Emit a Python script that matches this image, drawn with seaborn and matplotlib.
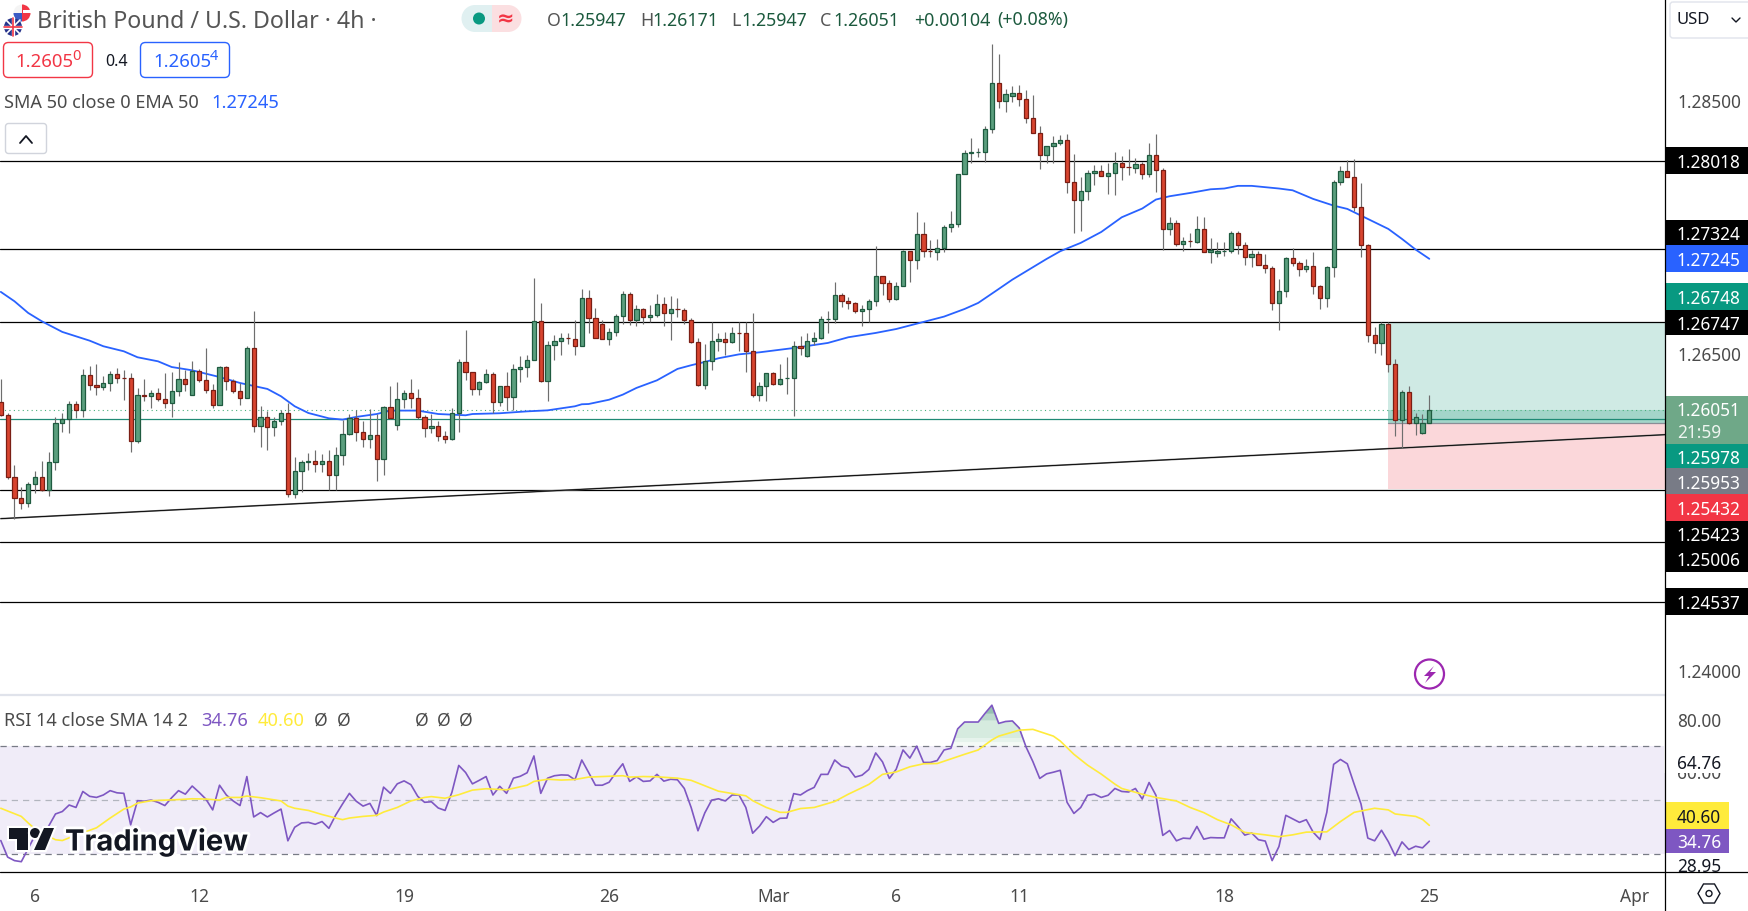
import numpy as np
import matplotlib
matplotlib.use('Agg')
import matplotlib.pyplot as plt
import matplotlib.patches as mpatches
import matplotlib.patheffects as pe
import seaborn as sns

W, H = 1748, 912

# ── Candles (4h) ─────────────────────────────────────────────────────────────
opens = [
    1.26115, 1.26012, 1.25523, 1.25357, 1.25318, 1.25468, 1.25523, 1.25418, 1.25641, 1.25949,
    1.25978, 1.26099, 1.26052, 1.26328, 1.26249, 1.26233, 1.26265, 1.26336, 1.26305, 1.26305,
    1.25807, 1.26170, 1.26162, 1.26186, 1.26139, 1.26107, 1.26202, 1.26297, 1.26170, 1.26360,
    1.26289, 1.26210, 1.26091, 1.26391, 1.26281, 1.26202, 1.26147, 1.26541, 1.25926, 1.25997,
    1.25918, 1.25965, 1.26028, 1.25389, 1.25570, 1.25641, 1.25649, 1.25623, 1.25649, 1.25539,
    1.25697, 1.25862, 1.25989, 1.25876, 1.25823, 1.25854, 1.25665, 1.26076, 1.25933, 1.26139,
    1.26186, 1.26147, 1.25997, 1.25910, 1.25926, 1.25847, 1.25823, 1.26028, 1.26431, 1.26352,
    1.26218, 1.26273, 1.26336, 1.26115, 1.26241, 1.26155, 1.26376, 1.26391, 1.26447, 1.26755,
    1.26278, 1.26565, 1.26597, 1.26620, 1.26613, 1.26555, 1.26936, 1.26778, 1.26731, 1.26613,
    1.26668, 1.26794, 1.26968, 1.26763, 1.26849, 1.26784, 1.26802, 1.26889, 1.26818, 1.26849,
    1.26841, 1.26763, 1.26589, 1.26247, 1.26439, 1.26597, 1.26613, 1.26589, 1.26660, 1.26660,
    1.26518, 1.26170, 1.26241, 1.26344, 1.26255, 1.26302, 1.26305, 1.26557, 1.26476, 1.26597,
    1.26620, 1.26770, 1.26770, 1.26960, 1.26913, 1.26897, 1.26834, 1.26849, 1.26913, 1.27110,
    1.27055, 1.26928, 1.27031, 1.27307, 1.27236, 1.27442, 1.27307, 1.27299, 1.27331, 1.27497,
    1.27521, 1.27915, 1.28081, 1.28086, 1.28089, 1.28271, 1.28634, 1.28492, 1.28531, 1.28555,
    1.28508, 1.28358, 1.28239, 1.28065, 1.28136, 1.28160, 1.28184, 1.27852, 1.27710, 1.27781,
    1.27923, 1.27939, 1.27900, 1.27923, 1.28002, 1.27971, 1.27963, 1.27994, 1.27915, 1.28065,
    1.27947, 1.27481, 1.27528, 1.27363, 1.27386, 1.27378, 1.27481, 1.27299, 1.27292, 1.27307,
    1.27307, 1.27449, 1.27355, 1.27260, 1.27284, 1.27197, 1.27173, 1.26897, 1.26992, 1.27252,
    1.27213, 1.27165, 1.27189, 1.27031, 1.26936, 1.27181, 1.27852, 1.27939, 1.27892, 1.27655,
    1.27355, 1.26644, 1.26581, 1.26731, 1.26415, 1.25973, 1.26194, 1.25949, 1.25870, 1.25947,
]
highs = [
    1.26299, 1.26028, 1.25620, 1.25444, 1.25483, 1.25573, 1.25649, 1.25723, 1.25997, 1.26028,
    1.26126, 1.26126, 1.26378, 1.26402, 1.26418, 1.26323, 1.26362, 1.26384, 1.26370, 1.26347,
    1.26228, 1.26299, 1.26212, 1.26228, 1.26347, 1.26355, 1.26431, 1.26370, 1.26441, 1.26378,
    1.26541, 1.26260, 1.26397, 1.26402, 1.26297, 1.26265, 1.26560, 1.26836, 1.26086, 1.26041,
    1.25997, 1.26054, 1.26107, 1.25683, 1.25660, 1.25712, 1.25739, 1.25707, 1.25739, 1.25760,
    1.25976, 1.26020, 1.26054, 1.25962, 1.26060, 1.26020, 1.26086, 1.26244, 1.26276, 1.26207,
    1.26299, 1.26220, 1.26015, 1.26018, 1.25962, 1.25889, 1.26068, 1.26457, 1.26686, 1.26352,
    1.26278, 1.26378, 1.26355, 1.26241, 1.26349, 1.26418, 1.26476, 1.26489, 1.27097, 1.26897,
    1.26599, 1.26647, 1.26663, 1.26663, 1.26765, 1.27010, 1.27002, 1.26857, 1.26765, 1.26702,
    1.26813, 1.26994, 1.26984, 1.26884, 1.26857, 1.26878, 1.26968, 1.26947, 1.26955, 1.26936,
    1.26857, 1.26778, 1.26620, 1.26576, 1.26744, 1.26663, 1.26668, 1.26710, 1.26749, 1.26744,
    1.26820, 1.26273, 1.26344, 1.26352, 1.26415, 1.26473, 1.26597, 1.26639, 1.26663, 1.26670,
    1.26797, 1.26836, 1.27063, 1.26976, 1.26944, 1.26905, 1.26881, 1.26928, 1.27349, 1.27110,
    1.27078, 1.27063, 1.27318, 1.27307, 1.27618, 1.27539, 1.27397, 1.27405, 1.27513, 1.27626,
    1.27915, 1.28105, 1.28202, 1.28123, 1.28294, 1.28937, 1.28865, 1.28586, 1.28613, 1.28621,
    1.28579, 1.28542, 1.28297, 1.28136, 1.28215, 1.28223, 1.28231, 1.28076, 1.27894, 1.27950,
    1.27986, 1.27986, 1.28002, 1.28092, 1.28057, 1.28115, 1.28044, 1.28010, 1.28163, 1.28234,
    1.27965, 1.27578, 1.27555, 1.27421, 1.27452, 1.27586, 1.27578, 1.27413, 1.27381, 1.27381,
    1.27465, 1.27465, 1.27378, 1.27318, 1.27307, 1.27286, 1.27192, 1.27089, 1.27260, 1.27331,
    1.27228, 1.27244, 1.27302, 1.27039, 1.27189, 1.27868, 1.27981, 1.28029, 1.28036, 1.27844,
    1.27363, 1.26707, 1.26747, 1.26747, 1.26457, 1.26212, 1.26244, 1.26028, 1.26023, 1.26171,
]
lows = [
    1.26002, 1.25507, 1.25191, 1.25270, 1.25283, 1.25397, 1.25410, 1.25370, 1.25581, 1.25876,
    1.25868, 1.25986, 1.25994, 1.26207, 1.26168, 1.26210, 1.26202, 1.26265, 1.26128, 1.25718,
    1.25791, 1.26120, 1.26065, 1.26120, 1.26065, 1.25994, 1.26160, 1.26199, 1.26170, 1.26273,
    1.26183, 1.26065, 1.26091, 1.26212, 1.26189, 1.26094, 1.26147, 1.25876, 1.25757, 1.25733,
    1.25844, 1.25931, 1.25365, 1.25354, 1.25404, 1.25575, 1.25560, 1.25560, 1.25420, 1.25420,
    1.25615, 1.25852, 1.25804, 1.25757, 1.25752, 1.25489, 1.25536, 1.25981, 1.25897, 1.26068,
    1.26068, 1.25981, 1.25836, 1.25868, 1.25810, 1.25791, 1.25815, 1.25876, 1.26291, 1.26168,
    1.26173, 1.26265, 1.26031, 1.26086, 1.26055, 1.26055, 1.26270, 1.26315, 1.26447, 1.26270,
    1.26120, 1.26444, 1.26484, 1.26576, 1.26489, 1.26555, 1.26657, 1.26620, 1.26613, 1.26568,
    1.26634, 1.26734, 1.26720, 1.26713, 1.26728, 1.26744, 1.26786, 1.26713, 1.26602, 1.26784,
    1.26728, 1.26578, 1.26239, 1.26215, 1.26365, 1.26515, 1.26489, 1.26584, 1.26520, 1.26349,
    1.26155, 1.26126, 1.26120, 1.26247, 1.26247, 1.26176, 1.26002, 1.26489, 1.26468, 1.26565,
    1.26613, 1.26663, 1.26739, 1.26863, 1.26847, 1.26815, 1.26713, 1.26744, 1.26870, 1.26963,
    1.26905, 1.26920, 1.27031, 1.27060, 1.27163, 1.27257, 1.27263, 1.27234, 1.27297, 1.27455,
    1.27494, 1.27915, 1.28000, 1.28050, 1.28013, 1.28239, 1.28434, 1.28402, 1.28481, 1.28455,
    1.28318, 1.28239, 1.27952, 1.28000, 1.28000, 1.28142, 1.27763, 1.27447, 1.27463, 1.27707,
    1.27826, 1.27897, 1.27755, 1.27747, 1.27865, 1.27905, 1.27921, 1.27873, 1.27889, 1.27771,
    1.27315, 1.27431, 1.27344, 1.27305, 1.27336, 1.27371, 1.27299, 1.27210, 1.27257, 1.27265,
    1.27292, 1.27281, 1.27194, 1.27181, 1.27197, 1.27131, 1.26839, 1.26681, 1.26942, 1.27189,
    1.27107, 1.27139, 1.26965, 1.26849, 1.26865, 1.27099, 1.27826, 1.27892, 1.27623, 1.27257,
    1.26586, 1.26502, 1.26489, 1.26349, 1.25849, 1.25752, 1.25941, 1.25857, 1.25865, 1.25947,
]
closes = [
    1.26015, 1.25523, 1.25357, 1.25318, 1.25468, 1.25523, 1.25418, 1.25641, 1.25949, 1.25978,
    1.26099, 1.26052, 1.26328, 1.26249, 1.26233, 1.26265, 1.26336, 1.26305, 1.26302, 1.25807,
    1.26170, 1.26162, 1.26186, 1.26139, 1.26107, 1.26202, 1.26297, 1.26257, 1.26360, 1.26289,
    1.26210, 1.26091, 1.26391, 1.26281, 1.26202, 1.26144, 1.26541, 1.25926, 1.25997, 1.25918,
    1.25965, 1.26028, 1.25389, 1.25570, 1.25641, 1.25649, 1.25623, 1.25649, 1.25539, 1.25697,
    1.25862, 1.25989, 1.25876, 1.25823, 1.25854, 1.25665, 1.26076, 1.25989, 1.26139, 1.26186,
    1.26147, 1.25997, 1.25910, 1.25926, 1.25847, 1.25823, 1.26028, 1.26431, 1.26352, 1.26218,
    1.26273, 1.26336, 1.26115, 1.26241, 1.26155, 1.26376, 1.26391, 1.26447, 1.26755, 1.26278,
    1.26565, 1.26597, 1.26620, 1.26618, 1.26555, 1.26936, 1.26776, 1.26620, 1.26613, 1.26668,
    1.26794, 1.26968, 1.26763, 1.26849, 1.26784, 1.26802, 1.26889, 1.26818, 1.26849, 1.26847,
    1.26763, 1.26589, 1.26247, 1.26439, 1.26597, 1.26613, 1.26589, 1.26660, 1.26657, 1.26518,
    1.26170, 1.26241, 1.26344, 1.26255, 1.26297, 1.26305, 1.26557, 1.26541, 1.26597, 1.26620,
    1.26770, 1.26773, 1.26960, 1.26913, 1.26897, 1.26831, 1.26849, 1.26913, 1.27110, 1.27055,
    1.26928, 1.27031, 1.27307, 1.27236, 1.27442, 1.27307, 1.27304, 1.27331, 1.27497, 1.27521,
    1.27915, 1.28081, 1.28086, 1.28089, 1.28271, 1.28634, 1.28492, 1.28547, 1.28555, 1.28508,
    1.28358, 1.28239, 1.28065, 1.28136, 1.28160, 1.28184, 1.27852, 1.27710, 1.27781, 1.27923,
    1.27939, 1.27900, 1.27923, 1.28002, 1.27971, 1.27968, 1.27994, 1.27915, 1.28065, 1.27947,
    1.27481, 1.27528, 1.27363, 1.27386, 1.27383, 1.27481, 1.27299, 1.27318, 1.27307, 1.27310,
    1.27449, 1.27355, 1.27260, 1.27284, 1.27197, 1.27173, 1.26897, 1.26992, 1.27252, 1.27213,
    1.27165, 1.27189, 1.27031, 1.26936, 1.27181, 1.27852, 1.27939, 1.27892, 1.27655, 1.27355,
    1.26644, 1.26581, 1.26731, 1.26415, 1.25973, 1.26194, 1.25949, 1.25997, 1.25947, 1.26051,
]

# ── EMA 50, read at its bends ────────────────────────────────────────────────
ema_idx = [0, 2, 4, 6, 9, 13, 15, 18, 20, 23, 25, 28, 32, 35, 39, 41, 43, 45, 48, 50,
           52, 55, 57, 61, 64, 68, 69, 73, 77, 80, 84, 85, 86, 89, 91, 93, 96, 99, 101, 103,
           105, 108, 111, 116, 121, 124, 128, 131, 135, 138, 141, 143, 146, 148, 153, 155, 158, 161, 164, 167,
           169, 171, 174, 177, 179, 181, 183, 187, 189, 192, 195, 197, 200, 203, 205, 207, 209]
ema_val = [1.26984, 1.26910, 1.26818, 1.26752, 1.26668, 1.26599, 1.26555, 1.26515, 1.26468, 1.26436,
           1.26391, 1.26365, 1.26312, 1.26265, 1.26218, 1.26160, 1.26081, 1.26028, 1.25986, 1.25976,
           1.25997, 1.26020, 1.26047, 1.26047, 1.26020, 1.26010, 1.26020, 1.26026, 1.26041, 1.26049,
           1.26081, 1.26097, 1.26099, 1.26133, 1.26173, 1.26226, 1.26286, 1.26376, 1.26405, 1.26431,
           1.26460, 1.26491, 1.26507, 1.26541, 1.26581, 1.26626, 1.26660, 1.26691, 1.26747, 1.26789,
           1.26849, 1.26897, 1.27007, 1.27081, 1.27244, 1.27305, 1.27371, 1.27457, 1.27573, 1.27642,
           1.27713, 1.27739, 1.27765, 1.27794, 1.27800, 1.27821, 1.27821, 1.27800, 1.27786, 1.27718,
           1.27665, 1.27639, 1.27560, 1.27481, 1.27402, 1.27318, 1.27245]

# ── RSI 14 ───────────────────────────────────────────────────────────────────
rsi = [
    35.0, 28.9, 27.6, 27.2, 32.0, 36.9, 37.5, 40.3, 44.8, 45.7,
    48.1, 47.2, 53.1, 51.3, 50.9, 51.8, 53.4, 52.6, 52.4, 40.8,
    49.7, 49.5, 49.9, 49.1, 47.9, 50.8, 53.4, 52.1, 55.1, 52.8,
    50.3, 46.3, 55.4, 51.8, 49.6, 47.9, 58.6, 43.7, 45.3, 43.7,
    45.2, 46.6, 34.9, 39.9, 41.5, 41.7, 41.0, 42.0, 39.5, 44.4,
    48.5, 52.4, 49.5, 47.7, 48.7, 44.2, 54.7, 52.4, 55.9, 57.0,
    55.6, 51.3, 49.1, 49.3, 47.0, 46.1, 52.8, 62.7, 60.1, 55.9,
    57.2, 58.6, 51.8, 55.0, 52.4, 58.0, 58.7, 60.0, 66.2, 52.4,
    58.0, 58.9, 59.2, 59.1, 57.4, 64.7, 60.1, 55.4, 55.4, 56.5,
    60.1, 63.3, 56.8, 58.5, 56.8, 57.0, 59.4, 56.9, 57.6, 57.4,
    54.2, 47.2, 38.6, 45.2, 49.9, 50.4, 49.6, 51.8, 51.8, 47.2,
    37.7, 40.3, 43.8, 41.7, 43.2, 43.3, 52.3, 51.8, 53.4, 54.6,
    59.4, 59.4, 64.7, 62.5, 61.8, 58.4, 59.1, 61.2, 67.3, 64.0,
    57.9, 61.3, 68.4, 65.4, 69.8, 63.8, 63.8, 64.5, 68.4, 69.0,
    76.2, 78.7, 78.7, 78.7, 81.9, 84.9, 78.2, 78.9, 79.1, 76.5,
    69.5, 64.1, 57.9, 59.6, 60.2, 60.9, 49.1, 45.0, 47.2, 51.7,
    52.1, 50.9, 51.7, 54.2, 53.1, 52.9, 54.2, 50.3, 56.4, 51.7,
    36.9, 38.7, 34.9, 35.9, 35.7, 40.2, 35.5, 36.1, 36.0, 36.0,
    43.0, 40.2, 37.0, 37.8, 35.3, 34.8, 27.6, 32.8, 44.3, 43.0,
    41.7, 42.7, 38.1, 35.4, 45.4, 63.1, 64.9, 63.3, 55.8, 48.5,
    35.9, 34.9, 38.8, 34.6, 29.4, 34.5, 31.7, 32.9, 32.3, 34.76,
]
rsi_ma_idx = [0, 3, 4, 5, 6, 8, 9, 10, 14, 16, 18, 19, 20, 22, 26, 28, 30, 32, 33, 35,
              36, 38, 41, 42, 43, 45, 47, 49, 50, 51, 53, 55, 56, 58, 60, 62, 63, 65, 67, 69,
              71, 74, 77, 78, 80, 82, 84, 86, 89, 91, 92, 94, 96, 99, 101, 103, 105, 109, 110, 112,
              114, 115, 117, 119, 122, 124, 127, 129, 131, 133, 135, 137, 139, 141, 143, 145, 146, 149, 151, 154,
              155, 157, 159, 161, 163, 164, 167, 169, 172, 174, 176, 178, 180, 182, 185, 187, 189, 191, 194, 196,
              198, 201, 203, 204, 207, 208, 209]
rsi_ma_val = [46.9, 43.9, 41.5, 39.3, 37.8, 35.3, 35.0, 36.0, 39.7, 43.3, 46.6, 47.4, 48.8, 49.7, 50.1, 50.4, 50.3, 49.9, 50.9, 50.9,
              51.4, 50.8, 49.6, 47.7, 46.9, 46.1, 44.6, 43.3, 42.7, 43.3, 43.9, 44.3, 45.5, 47.2, 49.6, 50.9, 51.2, 50.6, 51.9, 53.6,
              54.1, 53.7, 55.4, 56.8, 57.6, 57.3, 57.5, 58.4, 58.7, 58.9, 58.4, 58.6, 58.5, 58.0, 57.2, 55.2, 53.2, 51.5, 49.7, 47.2,
              45.4, 45.4, 46.8, 47.2, 49.4, 52.1, 55.7, 59.4, 60.3, 62.2, 63.3, 63.4, 65.1, 66.8, 68.4, 72.1, 73.5, 75.7, 76.0, 73.5,
              71.7, 66.8, 62.8, 59.5, 55.8, 54.2, 52.1, 50.9, 49.6, 47.2, 45.3, 42.7, 40.8, 38.0, 37.1, 36.4, 37.1, 38.1, 38.2, 42.0,
              45.4, 46.9, 46.3, 44.8, 43.9, 42.8, 40.6]
rsi_bands = [70, 50, 30]

# ── Levels and axis text ─────────────────────────────────────────────────────
support_levels = [1.28018, 1.27324, 1.26747, 1.25423, 1.25006, 1.24537]
trend_idx = [0, 243.5]
trend_val = [1.25194, 1.25857]
entry_price = 1.25953
target_price = 1.26748
stop_price = 1.25432
last_price = 1.26051
last_close_line = 1.25978
position_start = 202.9

price_ticks = [1.285, 1.265, 1.24]
rsi_ticks = [80]
date_idx = [5, 29, 59, 89, 113, 131, 149, 179, 209, 239]
date_labels = ['6', '12', '19', '26', 'Mar', '6', '11', '18', '25', 'Apr']

GREEN_FILL, GREEN_EDGE = '#5b9f7e', '#1f5b40'
RED_FILL, RED_EDGE = '#d8442f', '#7a1e14'
BLUE, PURPLE, YELLOW = '#2962ff', '#7e57c2', '#ffeb3b'
TEAL, RED, GREY = '#089981', '#f23645', '#787b86'
TXT = '#4a4a4a'
FONT = 'Noto Sans'

sns.set_theme(style='white')
plt.rcParams['font.family'] = [FONT, 'DejaVu Sans']

fig = plt.figure(figsize=(W / 100, H / 100), dpi=100, facecolor='white')


def axes_px(x0, y0, x1, y1, **kw):
    return fig.add_axes([x0 / W, 1 - y1 / H, (x1 - x0) / W, (y1 - y0) / H], **kw)


ax = axes_px(0, 0, 1665, 696)
ax_rsi = axes_px(0, 697, 1665, 873)
x_lim = (-0.117, 243.48)

# ── Price pane ───────────────────────────────────────────────────────────────
idx = np.arange(len(closes))
o, h, l, c = map(np.array, (opens, highs, lows, closes))
up = c >= o

ax.fill_between([position_start, x_lim[1]], entry_price, target_price, color='#cfeae4', lw=0, zorder=1)
ax.fill_between([position_start, x_lim[1]], stop_price, entry_price, color='#fbd7da', lw=0, zorder=1)
ax.fill_between([position_start, x_lim[1]], entry_price, last_price, color='#a3d5c9', lw=0, zorder=1)

for lvl in support_levels:
    ax.axhline(lvl, color='black', lw=0.9, zorder=2)
ax.axhline(last_close_line, color='#1f8a75', lw=0.9, zorder=2)
ax.axhline(last_price, color='#4caf7d', lw=0.8, ls=(0, (1, 3)), zorder=2)
ax.plot([position_start, x_lim[1]], [entry_price, entry_price], color='#8a8d96', lw=0.9, zorder=2)
ax.plot(trend_idx, trend_val, color='#777777', lw=1.2, zorder=2)
ax.plot(trend_idx, trend_val, color='black', lw=0.6, zorder=2)

sns.lineplot(x=ema_idx, y=ema_val, ax=ax, color=BLUE, lw=1.3, estimator=None, zorder=3)

ax.vlines(idx, l, h, color='#6e6e6e', lw=0.85, zorder=4)
ax.bar(idx, np.abs(c - o), bottom=np.minimum(o, c), width=0.62,
       color=np.where(up, GREEN_FILL, RED_FILL),
       edgecolor=np.where(up, GREEN_EDGE, RED_EDGE), linewidth=0.9, zorder=5)

ax.set_xlim(*x_lim)
ax.set_ylim(1.23802, 1.29296)
ax.set_xticks([])
ax.yaxis.tick_right()
ax.set_yticks(price_ticks)
ax.set_yticklabels([f'{t:.5f}' for t in price_ticks], color=TXT, fontsize=12.4)
ax.tick_params(axis='y', length=0, pad=9)
for s in ax.spines.values():
    s.set_visible(False)

# ── RSI pane ─────────────────────────────────────────────────────────────────
rsi_arr = np.array(rsi)
ax_rsi.axhspan(rsi_bands[2], rsi_bands[0], color='#f0ecf8', lw=0, zorder=1)
# overbought glow fades out towards the 70 line
for lo, shade in [(70, '#f4faf6'), (71.5, '#e6f3ec'), (73, '#d6ebdf'), (79.5, '#bcd9cd'), (82, '#97c0b2')]:
    ax_rsi.fill_between(idx, lo, rsi_arr, where=rsi_arr > lo, interpolate=True, color=shade, lw=0, zorder=2)
for lvl, col in zip(rsi_bands, [GREY, '#b2b5be', GREY]):
    ax_rsi.axhline(lvl, color=col, lw=0.9, ls=(0, (5, 4)), zorder=2)
sns.lineplot(x=idx, y=rsi_arr, ax=ax_rsi, color=PURPLE, lw=1.2, estimator=None, zorder=4)
sns.lineplot(x=rsi_ma_idx, y=rsi_ma_val, ax=ax_rsi, color=YELLOW, lw=1.2, estimator=None, zorder=5)
ax_rsi.set_xlim(*x_lim)
ax_rsi.set_ylim(23.4, 88.3)
ax_rsi.yaxis.tick_right()
ax_rsi.set_yticks(rsi_ticks)
ax_rsi.set_yticklabels(['80.00'], color=TXT, fontsize=12.4)
ax_rsi.set_xticks(date_idx)
ax_rsi.set_xticklabels(date_labels, color=TXT, fontsize=12.5)
ax_rsi.tick_params(axis='y', length=0, pad=9)
ax_rsi.tick_params(axis='x', length=0, pad=11)
for s in ax_rsi.spines.values():
    s.set_visible(False)

# ── Chart furniture, in pixels ───────────────────────────────────────────────
ui = fig.add_axes([0, 0, 1, 1], zorder=10)
ui.set_xlim(0, W)
ui.set_ylim(H, 0)
ui.axis('off')
ui.patch.set_alpha(0)


def txt(x, y, s, color=TXT, size=12.4, ha='left', va='center', **kw):
    return ui.text(x, y + 1.5, s, color=color, fontsize=size, ha=ha, va=va, **kw)


def box(x0, y0, x1, y1, fc='none', ec='none', lw=1, rad=3, **kw):
    p = mpatches.FancyBboxPatch((x0 + rad, y0 + rad), x1 - x0 - 2 * rad, y1 - y0 - 2 * rad,
                                boxstyle=f'round,pad={rad},rounding_size={rad}',
                                fc=fc, ec=ec, lw=lw, **kw)
    ui.add_patch(p)
    return p


def clipped_txt(x, y, s, y0, y1, color):
    t = txt(x, y, s, color=color)
    t.set_clip_path(mpatches.Rectangle((1666, y0), 82, y1 - y0, transform=ui.transData))
    t.set_clip_on(True)
    return t


ui.plot([0, 1665], [696, 696], color='#e0e3eb', lw=1.6)
ui.plot([0, W], [873.3, 873.3], color='black', lw=0.9)
ui.plot([1664.5, 1664.5], [0, H], color='black', lw=0.9)

# right axis price tags
tags = [
    (148.3, 175, '1.28018', 'black', 'white'),
    (221, 246, '1.27324', 'black', 'white'),
    (246, 272.7, '1.27245', BLUE, 'white'),
    (284, 311, '1.26748', TEAL, 'white'),
    (311, 336, '1.26747', 'black', 'white'),
    (445, 469.3, '1.25978', TEAL, 'white'),
    (469.3, 495.3, '1.25953', GREY, 'white'),
    (495.3, 521.7, '1.25432', RED, 'white'),
    (521.7, 547, '1.25423', 'black', 'white'),
    (547, 572.7, '1.25006', 'black', 'white'),
    (589.3, 615.7, '1.24537', 'black', 'white'),
]
for y0, y1, s, bg, fg in tags:
    ui.add_patch(mpatches.Rectangle((1665, y0), 83, y1 - y0, fc=bg, ec='none'))
    txt(1677, (y0 + y1) / 2, s, color=fg)
ui.add_patch(mpatches.Rectangle((1665, 397), 83, 48, fc='#6fa888', ec='none'))
txt(1677, 410, '1.26051', color='white')
txt(1677, 431.5, '21:59', color='#eef5f0')

# RSI axis tags
ui.add_patch(mpatches.Rectangle((1663.5, 747), 85, 27, fc='white', ec='none'))
txt(1677, 762.5, '64.76', color='#131722')
clipped_txt(1677, 772.5, '60.00', 774, 782, TXT)
ui.add_patch(mpatches.Rectangle((1665, 803), 64, 27, fc=YELLOW, ec='none'))
txt(1677, 816.5, '40.60', color='#131722')
ui.add_patch(mpatches.Rectangle((1665, 830), 64, 24.5, fc=PURPLE, ec='none'))
txt(1677, 842, '34.76', color='white')
clipped_txt(1677, 866, '28.95', 855, 873, '#131722')

# USD selector
box(1670, 3, 1760, 39, ec='#e0e3eb', lw=1)
txt(1676, 19, 'USD', color='#131722', size=12)
ui.plot([1732, 1736, 1740], [19, 23, 19], color='#131722', lw=1)

# settings hexagon
ui.add_patch(mpatches.RegularPolygon((1709, 894.5), 6, radius=11, orientation=np.pi / 2,
                                     fc='none', ec='#131722', lw=1))
ui.add_patch(mpatches.Circle((1709, 894.5), 3, fc='none', ec='#131722', lw=1))

# lightning marker
ui.add_patch(mpatches.Circle((1429.5, 675), 14.5, fc='white', ec='#9c27b0', lw=1.6))
ui.add_patch(mpatches.Polygon([(1434, 667), (1424, 677), (1429, 677), (1425, 684), (1436, 673), (1430, 673)],
                              fc='#9c27b0', ec='none'))

# title row
ui.add_patch(mpatches.Circle((22, 14), 8.5, fc='#f4f4f4', ec='none'))
ui.add_patch(mpatches.Wedge((22, 14), 8.5, -90, 90, fc=RED, ec='none'))
ui.add_patch(mpatches.Rectangle((23, 11), 8, 3.2, fc='white', ec='none'))
ui.add_patch(mpatches.Wedge((22, 14), 8.5, 90, 180, fc='#3b5bc4', ec='none'))
ui.add_patch(mpatches.Circle((13, 28), 9, fc='#27348b', ec='none'))
ui.plot([6, 20], [21, 35], color='white', lw=1.2)
ui.plot([6, 20], [35, 21], color='white', lw=1.2)
ui.plot([4, 22], [28, 28], color='white', lw=2.4)
ui.plot([13, 13], [19, 37], color='white', lw=2.4)
ui.plot([4, 22], [28, 28], color=RED, lw=1.2)
ui.plot([13, 13], [19, 37], color=RED, lw=1.2)
txt(37, 20, 'British Pound / U.S. Dollar · 4h ·', size=16.7, color='#555555')

ui.add_patch(mpatches.Wedge((475, 19.5), 13.5, 90, 270, fc='#e0f0f1', ec='none'))
ui.add_patch(mpatches.Rectangle((475, 6), 17, 27, fc='#e0f0f1', ec='none'))
ui.add_patch(mpatches.Rectangle((492, 6), 16, 27, fc='#fbdfe1', ec='none'))
ui.add_patch(mpatches.Wedge((508, 19.5), 13.5, -90, 90, fc='#fbdfe1', ec='none'))
ui.add_patch(mpatches.Circle((479, 19.5), 6, fc=TEAL, ec='none'))
txt(506, 18, '≈', color=RED, size=15, ha='center', weight='bold')

OHLC_COL = '#1c5a3e'
for x_l, s_l, x_v, s_v in [(547, 'O', 560, '1.25947'), (640, 'H', 652, '1.26171'),
                           (731, 'L', 741.5, '1.25947'), (820, 'C', 833, '1.26051')]:
    txt(x_l, 19, s_l, size=12.8, color='#555555')
    txt(x_v, 19, s_v, size=12.8, color=OHLC_COL)
txt(914, 19, '+0.00104', size=12.8, color=OHLC_COL)
txt(997, 19, '(+0.08%)', size=12.8, color=OHLC_COL)

# bid / ask
box(3.5, 43.5, 92.5, 78.5, fc='white', ec=RED, lw=1, rad=5)
txt(15, 60.5, '1.2605', color=RED, size=13.4)
txt(72, 55, '0', color=RED, size=10.5)
txt(105, 60.5, '0.4', color='#131722', size=11.5)
box(140.5, 43.5, 229.5, 78.5, fc='white', ec=BLUE, lw=1, rad=5)
txt(153, 60.5, '1.2605', color=BLUE, size=13.4)
txt(210, 55, '4', color=BLUE, size=10.5)

# indicator legends
txt(4, 102, 'SMA 50 close 0 EMA 50', size=13)
txt(211, 102, '1.27245', size=13.2, color=BLUE)
box(5.5, 124.5, 46.5, 154.5, fc='white', ec='#d1d4dc', lw=1, rad=3)
ui.plot([20, 26, 32], [144, 137, 144], color='#131722', lw=1.3)

txt(4, 719.5, 'RSI 14 close SMA 14 2', size=13)
txt(201, 719.5, '34.76', size=13.2, color=PURPLE)
txt(258, 719.5, '40.60', size=13.2, color=YELLOW)
for xn in [321, 344, 422, 444, 466]:
    txt(xn, 719.5, 'Ø', size=12.6, ha='center', color='#4a4a4a')

# logo
halo = [pe.withStroke(linewidth=4, foreground='white')]
LOGO = '#131722'
for patch in [mpatches.Polygon([(9, 829), (28, 829), (28, 851), (17, 851), (17, 840), (9, 840)], fc=LOGO, ec='none'),
              mpatches.Circle((35, 834), 5, fc=LOGO, ec='none'),
              mpatches.Polygon([(44, 829), (54, 829), (45, 851), (34, 851)], fc=LOGO, ec='none')]:
    patch.set_path_effects([pe.withStroke(linewidth=3, foreground='white')])
    ui.add_patch(patch)
txt(65, 842, 'TradingView', size=21, color=LOGO, weight='bold', family='Inter', path_effects=halo)

fig.savefig('out.png', dpi=100)
